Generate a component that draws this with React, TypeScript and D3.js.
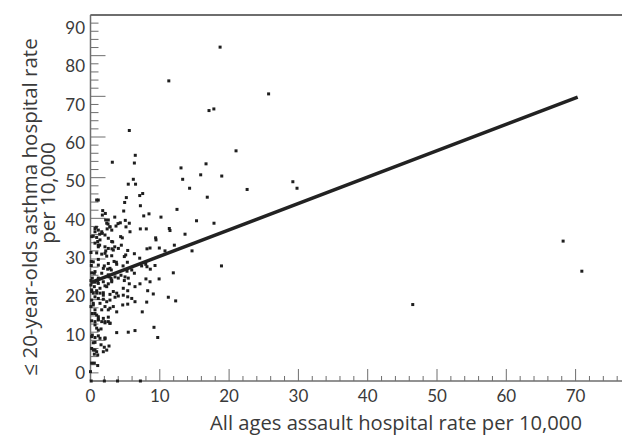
import React from "react";
import * as d3 from "d3";

const W = 622;
const H = 436;

const xTickLabels = [0, 10, 20, 30, 40, 50, 60, 70];
const yTickLabels = [0, 10, 20, 30, 40, 50, 60, 70, 80, 90];

// All ages assault hospital rate per 10,000 (x) and <=20-year-olds asthma rate (y)
const assaultRate = [
  18.7, 11.3, 25.7, 17.1, 17.8, 5.6, 21.0, 6.46, 6.33, 3.15, 13.06, 16.67, 15.9, 18.94, 6.18, 13.3,
  5.45, 6.5, 14.3, 16.85, 5.17, 1.12, 7.1, 7.53, 4.93, 7.2, 12.48, 1.76, 2.14, 1.71, 4.79, 8.44,
  7.68, 3.5, 10.17, 15.3, 5.02, 2.19, 2.53, 3.97, 4.3, 3.68, 5.6, 17.82, 0.84, 0.65, 2.4, 2.8,
  3.07, 5.12, 5.7, 7.19, 8.05, 11.37, 11.47, 13.64, 1.32, 1.7, 2.09, 4.35, 4.59, 9.4, 9.45, 0.17,
  1.04, 3.2, 1.32, 1.13, 3.5, 3.1, 4.45, 4.02, 8.15, 8.59, 9.93, 10.75, 12.1, 14.65, 0.07, 2.2,
  2.1, 5.37, 5.08, 4.88, 6.33, 7.1, 3.06, 3.4, 1.13, 0.12, 0.12, 3.73, 3.78, 5.32, 4.7, 7.38,
  7.97, 8.15, 9.31, 18.9, 1.85, 2.48, 3.0, 5.27, 5.95, 0.17, 0.55, 6.33, 8.63, 11.95, 4.4, 4.98,
  2.67, 2.96, 1.13, 9.9, 8.0, 2.57, 1.99, 0.65, 3.54, 4.01, 3.06, 2.57, 2.09, 4.88, 5.45, 8.59,
  5.6, 7.14, 6.42, 8.25, 9.06, 4.73, 5.37, 11.23, 12.29, 0.65, 1.13, 0.07, 0.17, 0.4, 0.89, 1.37,
  1.85, 0.07, 3.29, 3.78, 4.01, 3.54, 4.73, 5.37, 5.95, 6.42, 4.65, 5.37, 8.11, 7.47, 1.85, 2.34,
  2.81, 1.37, 2.09, 1.62, 2.81, 3.29, 0.65, 0.17, 0.4, 0.07, 0.65, 0.26, 0.89, 3.78, 0.17, 0.65,
  1.13, 1.62, 2.09, 2.57, 2.81, 1.13, 1.85, 2.57, 3.78, 5.45, 6.42, 9.16, 9.7, 0.89, 1.13, 0.17,
  0.65, 1.13, 1.37, 2.09, 0.4, 1.52, 1.99, 2.34, 2.67, 0.17, 0.65, 0.55, 1.04, 0.89, 0.17, 1.04,
  0.0, 0.1, 2.0, 3.9, 7.2, 0.89, 2.57, 2.34, 2.81, 0.65, 1.13, 1.62, 0.4, 0.89, 1.37, 2.57,
  3.06, 0.65, 1.13, 2.09, 2.57, 3.29, 0.89, 1.62, 2.34, 0.4, 1.13, 2.81, 1.62, 2.57, 0.26, 1.04,
  1.85, 3.06, 0.55, 1.37, 2.34, 0.17, 0.89, 1.85, 2.81, 1.13, 0.4, 2.57, 0.65, 1.13, 2.09, 2.81,
  0.65, 1.52, 0.26, 2.09, 0.65, 0.4, 1.85, 0.55, 22.6, 29.2, 29.8, 46.5, 68.2, 70.9,
];
const asthmaRate = [
  82.1, 73.8, 70.6, 66.5, 66.9, 61.6, 56.6, 55.5, 53.6, 53.8, 52.4, 53.4, 50.7, 50.4, 49.6, 49.6,
  48.4, 48.4, 47.4, 45.2, 45.1, 44.5, 45.6, 46.1, 43.9, 43.1, 42.2, 41.9, 41.2, 40.8, 41.8, 41.1,
  40.6, 40.3, 40.3, 39.4, 39.5, 39.6, 38.6, 38.7, 38.9, 38.1, 38.8, 38.8, 37.8, 36.7, 37.4, 37.9,
  37.1, 37.9, 36.7, 37.4, 37.4, 37.5, 37.0, 36.1, 36.1, 36.3, 35.9, 35.5, 35.2, 35.2, 34.7, 35.5,
  34.3, 34.2, 33.4, 33.0, 33.0, 32.5, 33.4, 32.6, 32.5, 32.7, 32.7, 32.0, 33.4, 32.0, 31.6, 32.0,
  31.4, 32.1, 31.0, 30.6, 31.3, 30.2, 30.8, 29.4, 29.9, 29.4, 28.4, 29.2, 28.7, 29.2, 28.3, 28.3,
  28.7, 28.1, 28.4, 28.3, 27.7, 27.5, 27.3, 27.0, 27.3, 26.6, 26.5, 26.5, 27.5, 26.6, 26.0, 25.6,
  25.6, 25.2, 25.3, 25.1, 25.1, 28.9, 28.3, 26.9, 25.6, 25.3, 24.4, 23.9, 23.4, 24.7, 25.3, 24.4,
  23.9, 23.9, 23.2, 22.2, 21.4, 22.8, 22.2, 20.6, 19.7, 24.4, 24.0, 23.6, 22.4, 21.6, 22.2, 21.6,
  21.7, 24.7, 22.0, 21.6, 20.9, 20.6, 21.1, 20.7, 20.3, 19.5, 18.7, 18.9, 19.4, 17.0, 20.1, 19.5,
  19.9, 19.1, 18.3, 17.5, 17.9, 18.3, 20.7, 19.9, 19.1, 18.3, 17.5, 16.6, 16.2, 17.0, 14.8, 14.6,
  15.0, 14.6, 14.3, 14.6, 14.2, 15.8, 15.4, 15.7, 11.9, 12.0, 12.4, 13.2, 10.7, 13.0, 12.5, 10.9,
  10.7, 11.1, 10.5, 10.4, 9.4, 8.9, 8.3, 7.6, 8.6, 8.0, 7.6, 6.6, 6.4, 7.2, 4.4, 3.8,
  2.3, 0, 0, 0, 0, 44.5, 39.6, 38.8, 37.9, 37.5, 37.1, 36.7, 35.6, 35.3, 34.7, 35.1,
  34.3, 33.9, 33.4, 33.0, 32.6, 32.2, 31.5, 31.2, 30.7, 29.3, 28.5, 27.7, 26.5, 26.1, 25.3, 24.6,
  24.4, 24.8, 23.2, 22.8, 23.2, 22.0, 21.6, 21.1, 21.3, 20.3, 18.7, 17.5, 16.6, 15.2, 14.6, 14.2,
  13.8, 12.8, 11.3, 10.6, 9.5, 7.6, 7.2, 4.4, 47.1, 49.0, 47.4, 18.8, 34.4, 27.0,
];

// Fitted regression line
const fitIntercept = 24.2;
const fitSlope = 0.649;
const fitXRange = [0, 70.3];

const TICK_FONT = "Lato, 'Open Sans', sans-serif";
const TITLE_FONT = "'Open Sans', Lato, sans-serif";
const TEXT = "#3a3a3a";
const AXIS = "#6e6e6e";

export default function App() {
  const x = d3.scaleLinear().domain([0, 80]).range([90.5, 90.5 + 80 * 6.93]);
  const y = d3.scaleLinear().domain([0, 90]).range([381, 15]);
  const yLab = d3.scaleLinear().domain([0, 90]).range([373, 28]);

  const minorX = d3.range(0, 80, 2);
  const minorY = d3.range(0, 91, 2);

  const fitLine = d3
    .line<number>()
    .x((d) => x(d))
    .y((d) => y(fitIntercept + fitSlope * d));

  const pts = assaultRate.map((a, i) => [a, asthmaRate[i]]);
  const s = 3;

  return (
    <svg width={W} height={H} style={{ position: "absolute", left: 0, top: 0, background: "#fff" }}>
      <line x1={x(0)} x2={W} y1={y(90)} y2={y(90)} stroke={AXIS} strokeWidth={2} />
      <line x1={x(0)} x2={x(0)} y1={y(90)} y2={y(0)} stroke={AXIS} strokeWidth={1.5} />
      <line x1={x(0)} x2={W} y1={y(0)} y2={y(0)} stroke={AXIS} strokeWidth={1.5} />
      {minorY.map((v) => (
        <line
          key={"yt" + v}
          x1={x(0)}
          x2={x(0) + (v % 10 === 0 ? 15 : 8)}
          y1={y(v)}
          y2={y(v)}
          stroke={AXIS}
          strokeWidth={1}
        />
      ))}
      {minorX.map((v) => (
        <line
          key={"xt" + v}
          x1={x(v)}
          x2={x(v)}
          y1={y(0)}
          y2={y(0) - (v % 10 === 0 ? 12 : 5)}
          stroke={AXIS}
          strokeWidth={1}
        />
      ))}
      {yTickLabels.map((v) => (
        <text
          key={"yl" + v}
          x={85}
          y={yLab(v)}
          dy="0.35em"
          textAnchor="end"
          fontFamily={TICK_FONT}
          fontSize={17}
          fill={TEXT}
        >
          {v}
        </text>
      ))}
      {xTickLabels.map((v) => (
        <text
          key={"xl" + v}
          x={x(v)}
          y={396}
          dy="0.35em"
          textAnchor="middle"
          fontFamily={TICK_FONT}
          fontSize={17}
          fill={TEXT}
        >
          {v}
        </text>
      ))}
      <path d={fitLine(fitXRange) || ""} fill="none" stroke="#222" strokeWidth={3.5} />
      {pts.map(([a, b], i) => (
        <rect key={"p" + i} x={x(a) - s / 2} y={y(b) - s / 2} width={s} height={s} fill="#1e1e1e" />
      ))}
      <text
        x={396}
        y={423}
        dy="0.35em"
        textAnchor="middle"
        fontFamily={TITLE_FONT}
        fontSize={20.2}
        fill={TEXT}
      >
        All ages assault hospital rate per 10,000
      </text>
      <text
        transform="translate(30,207) rotate(-90)"
        dy="0.35em"
        textAnchor="middle"
        fontFamily={TITLE_FONT}
        fontSize={20.5}
        fill={TEXT}
      >
        ≤ 20-year-olds asthma hospital rate
      </text>
      <text
        transform="translate(48,193) rotate(-90)"
        dy="0.35em"
        textAnchor="middle"
        fontFamily={TITLE_FONT}
        fontSize={20.5}
        fill={TEXT}
      >
        per 10,000
      </text>
    </svg>
  );
}
